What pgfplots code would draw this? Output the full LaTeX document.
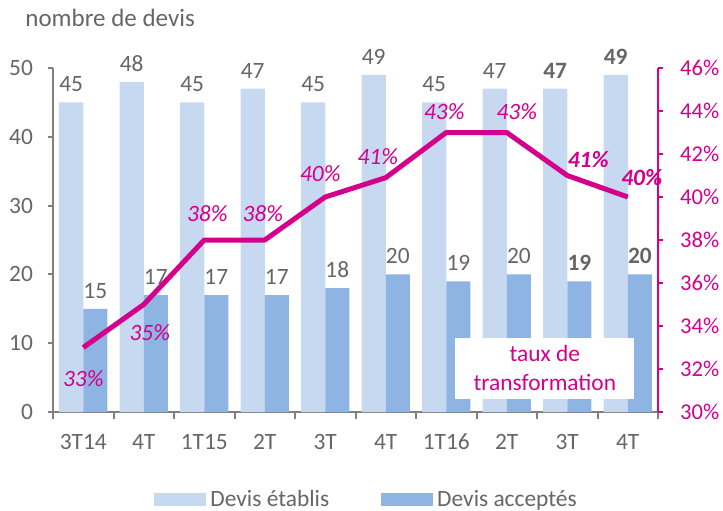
\documentclass[border=0pt]{standalone}
\usepackage{fontspec}
\setmainfont{Carlito}
\usepackage{pgfplots}
\usepackage{pgfplotstable}
\pgfplotsset{compat=1.18}

\definecolor{etab}{HTML}{C6D9F1}
\definecolor{acc}{HTML}{8EB4E3}
\definecolor{mag}{HTML}{D4008C}
\definecolor{txtgray}{HTML}{666666}
\definecolor{axgray}{HTML}{808080}

\newcommand{\lbl}{\fontsize{11.7}{14.5}\selectfont}

% x, devis etablis, devis acceptes, bold flag
\pgfplotstableread{
x e a bf
0 45 15 0
1 48 17 0
2 45 17 0
3 47 17 0
4 45 18 0
5 49 20 0
6 45 19 0
7 47 20 0
8 47 19 1
9 49 20 1
}\devis

% taux de transformation, label, label offsets (pt), bold flag
\pgfplotstableread{
x tx lab dx dy bf
0 33 33 0 -15.5 0
1 35 35 3 -14 0
2 38 38 1.5 13 0
3 38 38 -1 13 0
4 40 40 -2.5 11.5 0
5 40.9 41 -4 10.5 0
6 43 43 -1 10.5 0
7 43 43 5 10.5 0
8 41 41 10.5 8 1
9 40 40 7 9.5 1
}\taux

\begin{document}
\begin{tikzpicture}[x=1pt,y=1pt]
\node[anchor=west, text=txtgray, font=\fontsize{12.5}{15}\selectfont, inner sep=0pt] at (12.5,246) {nombre de devis};

\begin{axis}[
  at={(26.5pt,49pt)}, anchor=south west,
  scale only axis, width=302.5pt, height=172pt,
  xmin=-0.5, xmax=9.5, ymin=0, ymax=50,
  axis x line*=bottom, axis y line*=left,
  axis line style={-, draw=axgray, line width=1pt},
  xtick={0,...,9},
  xticklabels={3T14,4T,1T15,2T,3T,4T,1T16,2T,3T,4T},
  minor xtick={-0.5,0.5,...,9.5},
  major x tick style={draw=none},
  minor x tick style={draw=axgray, line width=1pt},
  y tick style={draw=axgray, line width=1pt},
  tick align=outside,
  major tick length=2.5pt, minor tick length=3.5pt,
  ytick={0,10,...,50},
  /pgf/number format/assume math mode=true,
  tick label style={text=txtgray, font=\lbl},
  yticklabel shift=4pt,
  xticklabel style={yshift=-5pt},
  ybar=0pt, bar width=12.1pt,
  visualization depends on={\thisrow{bf} \as \isbold},
  nodes near coords={\ifdim\isbold pt>0.5pt\bfseries\fi\pgfmathprintnumber{\pgfplotspointmeta}},
  every node near coord/.append style={text=txtgray, font=\lbl, inner sep=2pt, yshift=3pt},
  legend style={at={(0.52,-0.255)}, anchor=center, draw=none, fill=none,
    legend columns=2, font=\lbl, text=txtgray,
    /tikz/every even column/.append style={column sep=24pt}},
  legend image code/.code={\fill[#1] (0pt,-3.25pt) rectangle (26pt,3.25pt);},
]
\addplot[fill=etab, draw=none] table[x=x, y=e] {\devis};
\addplot[fill=acc, draw=none] table[x=x, y=a] {\devis};
\legend{Devis établis, Devis acceptés}
\node[fill=white, text=mag, align=center, minimum width=89.5pt, minimum height=30.5pt,
  inner sep=0pt, font=\lbl] at (axis cs:7.63,6.35) {taux de\\transformation};
\end{axis}

\begin{axis}[
  at={(26.5pt,49pt)}, anchor=south west,
  scale only axis, width=302.5pt, height=172pt,
  xmin=-0.5, xmax=9.5, ymin=30, ymax=46,
  axis x line=none, axis y line*=right,
  axis line style={-, draw=mag, line width=1pt},
  y tick style={draw=mag, line width=1pt},
  tick align=outside, major tick length=2.5pt,
  ytick={30,32,...,46},
  /pgf/number format/assume math mode=true,
  yticklabel={\pgfmathprintnumber{\tick}\%},
  yticklabel style={text=mag, font=\fontsize{11.3}{14}\selectfont},
  yticklabel shift=5pt,
  clip=false,
]
\addplot[mag, line width=2.5pt, line join=round, mark=none,
  point meta=explicit,
  visualization depends on={\thisrow{dx} \as \labdx},
  visualization depends on={\thisrow{dy} \as \labdy},
  visualization depends on={\thisrow{bf} \as \isbold},
  nodes near coords={\ifdim\isbold pt>0.5pt\bfseries\fi\itshape\pgfmathprintnumber{\pgfplotspointmeta}\%},
  every node near coord/.append style={anchor=center, text=mag, font=\lbl,
    xshift=\labdx pt, yshift=\labdy pt},
] table[x=x, y=tx, meta=lab] {\taux};
\end{axis}
\pgfresetboundingbox
\path (0,0) rectangle (361.5,255);
\end{tikzpicture}
\end{document}
